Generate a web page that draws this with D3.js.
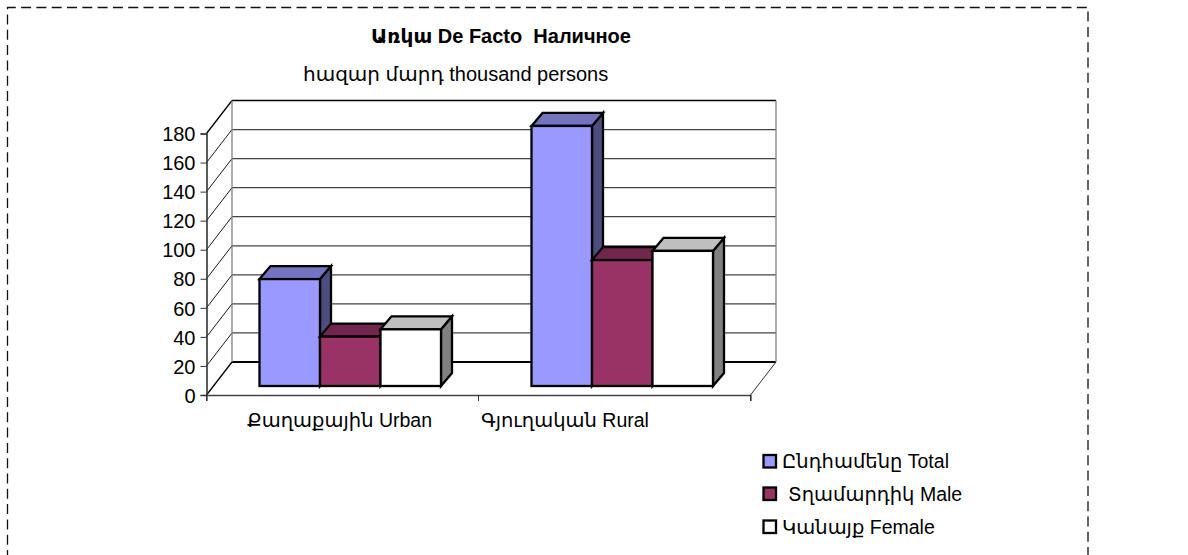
<!DOCTYPE html>
<html><head><meta charset="utf-8">
<script src="https://cdn.jsdelivr.net/npm/d3@7/dist/d3.min.js"></script>
<style>html,body{margin:0;padding:0;background:#fff}svg{display:block}text{font-family:"Liberation Sans","DejaVu Sans",sans-serif;fill:#000}</style>
</head><body><svg id="c" width="1188" height="555"></svg>
<script>
const categories = ["Քաղաքային Urban", "Գյուղական Rural"];
const seriesNames = ["Ընդհամենը Total", "Տղամարդիկ Male", "Կանայք Female"];
const total = [73.6, 179];
const male = [34, 86.7];
const female = [39, 93];
const yTicks = [0,20,40,60,80,100,120,140,160,180];
const titleText = "Առկա De Facto  Наличное";
const subtitleText = "հազար մարդ thousand persons";

const colors = [
 {front:"#9999ff",top:"#7373bf",side:"#4d4d80"},
 {front:"#993366",top:"#73264d",side:"#4d1a33"},
 {front:"#ffffff",top:"#bfbfbf",side:"#808080"}];
const svg = d3.select("#c");
const fs = 20, fsSmall = 19.5;
// page frame
svg.append("path").attr("d","M7.5,560V7.5H1088V560").attr("fill","none").attr("stroke","#111").attr("stroke-width",1.3).attr("stroke-dasharray","10 5.3");
svg.append("text").attr("x",371).attr("y",43).attr("font-size",fs).attr("font-weight","bold").style("white-space","pre").text(titleText);
svg.append("text").attr("x",303).attr("y",81).attr("font-size",fs).text(subtitleText);

const y = d3.scaleLinear().domain([0,180]).range([395,133.5]);
const x0 = d3.scaleBand().domain(categories).range([206.5,750.5]);
const x1 = d3.scaleBand().domain(seriesNames).range([53,234.5]);
const wallDx = 25.5, wallDy = -33, barDx = 11, barDy = -13, barLift = 9;
const xL = x0.range()[0], xR = x0.range()[1];

// walls and grid
const g = svg.append("g");
yTicks.forEach(v=>{
  const yy = y(v), isBase = v===0, isTop = v===180;
  g.append("line").attr("x1",xL).attr("y1",yy).attr("x2",xL+wallDx).attr("y2",yy+wallDy).attr("stroke","#000").attr("stroke-width",isBase||isTop?1.3:.9);
  g.append("line").attr("x1",xL+wallDx).attr("y1",yy+wallDy).attr("x2",xR+wallDx).attr("y2",yy+wallDy)
    .attr("stroke",isBase||isTop?"#000":"#444").attr("stroke-width",isBase?1.8:1.3);
});
g.append("line").attr("x1",xL+wallDx).attr("y1",y(0)+wallDy).attr("x2",xL+wallDx).attr("y2",y(180)+wallDy).attr("stroke","#808080").attr("stroke-width",1.3);
g.append("line").attr("x1",xR+wallDx).attr("y1",y(0)+wallDy).attr("x2",xR+wallDx).attr("y2",y(180)+wallDy).attr("stroke","#808080").attr("stroke-width",1.3);
g.append("line").attr("x1",xR).attr("y1",y(0)).attr("x2",xR+wallDx).attr("y2",y(0)+wallDy).attr("stroke","#333").attr("stroke-width",1);

// axes
const axisY = d3.axisLeft(y).tickValues(yTicks).tickSize(6).tickPadding(5);
const ay = svg.append("g").attr("transform",`translate(${xL},0)`).call(axisY);
ay.selectAll("text").attr("font-size",fs).attr("dy","0.36em");
ay.select(".domain").attr("stroke","#333").attr("stroke-width",1.6);
ay.selectAll(".tick line").attr("stroke","#333");
const axisX = d3.axisBottom(x0).tickValues([]).tickSizeOuter(6);
const ax = svg.append("g").attr("transform",`translate(0,${y(0)})`).call(axisX);
ax.select(".domain").attr("stroke","#444").attr("stroke-width",1.4);
[xL, x0(categories[1]), xR].forEach(px=>svg.append("line").attr("x1",px).attr("x2",px).attr("y1",y(0)).attr("y2",y(0)+6).attr("stroke","#333"));
const labelStart = [247, 481];
categories.forEach((c,i)=>svg.append("text").attr("x",labelStart[i]).attr("y",427).attr("font-size",fsSmall).text(c));

// bars
const series = [total,male,female];
categories.forEach((c,ci)=>{
  seriesNames.forEach((s,si)=>{
    const X = x0(c)+x1(s), W = x1.bandwidth(), B = y(0)-barLift, T = y(series[si][ci])-barLift;
    const col = colors[si];
    const bg = svg.append("g").attr("stroke","#000").attr("stroke-width",2.3).attr("stroke-linejoin","miter");
    bg.append("path").attr("fill",col.side).attr("d",d3.line()([[X+W,B],[X+W+barDx,B+barDy],[X+W+barDx,T+barDy],[X+W,T]])+"Z");
    bg.append("path").attr("fill",col.top).attr("d",d3.line()([[X,T],[X+barDx,T+barDy],[X+W+barDx,T+barDy],[X+W,T]])+"Z");
    bg.append("rect").attr("x",X).attr("y",T).attr("width",W).attr("height",B-T).attr("fill",col.front);
  });
});

// legend
const legY = [461.5,494,527], legTextX = [782,788,782];
seriesNames.forEach((s,i)=>{
  svg.append("rect").attr("x",763.5).attr("y",legY[i]-6.5).attr("width",12.5).attr("height",12.5).attr("fill",colors[i].front).attr("stroke","#000").attr("stroke-width",2.3);
  svg.append("text").attr("x",legTextX[i]).attr("y",legY[i]+6.5).attr("font-size",fsSmall).text(s);
});
</script></body></html>
